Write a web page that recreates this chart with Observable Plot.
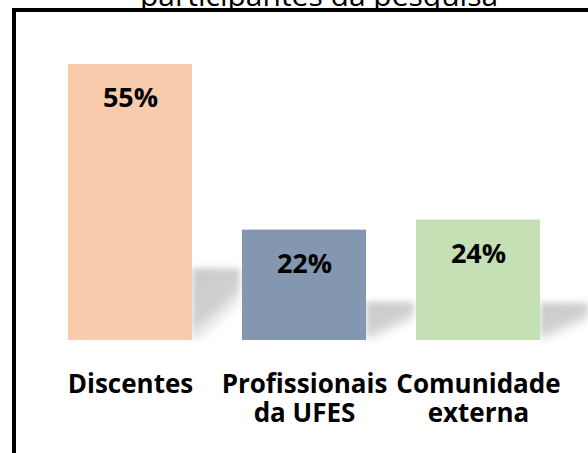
<!DOCTYPE html>
<html>
<head>
<meta charset="utf-8">
<script src="https://cdn.jsdelivr.net/npm/d3@7"></script>
<script src="https://cdn.jsdelivr.net/npm/@observablehq/plot@0.6"></script>
<style>
  html, body { margin: 0; padding: 0; width: 588px; height: 453px; overflow: hidden; background: #fff; }
  #wrap { position: relative; width: 588px; height: 453px; overflow: hidden; }
  #title { position: absolute; left: 140px; top: -20px; font-family: "Open Sans", sans-serif; font-size: 30px; line-height: 30px; white-space: nowrap; color: #000; z-index: 1; }
  #frame { position: absolute; left: 12px; top: 8px; width: 800px; height: 700px; border: 4px solid #000; background: #fff; z-index: 2; }
  #chart { position: absolute; left: 0; top: 0; z-index: 3; }
</style>
</head>
<body>
<div id="wrap">
  <div id="title">participantes da pesquisa</div>
  <div id="frame"></div>
  <div id="chart"></div>
</div>
<script>
const categories = ["Discentes", "Profissionais\nda UFES", "Comunidade\nexterna"];
const values = [55, 22, 24];
const valueLabels = ["55%", "22%", "24%"];
const barColors = ["#F8CBAD", "#8497B0", "#C5E0B4"];
const shadowHeights = [14.3, 7.6, 7.4];

const data = categories.map((c, i) => ({
  category: c, value: values[i], label: valueLabels[i], color: barColors[i], shadow: shadowHeights[i]
}));

function defs() {
  const ns = "http://www.w3.org/2000/svg";
  const d = document.createElementNS(ns, "defs");
  d.innerHTML = `
    <linearGradient id="shadowGrad" x1="0" y1="0" x2="0.6" y2="1">
      <stop offset="0" stop-color="#c4c4c4" stop-opacity="0.9"/>
      <stop offset="0.6" stop-color="#c8c8c8" stop-opacity="0.85"/>
      <stop offset="0.78" stop-color="#d8d8d8" stop-opacity="0.35"/>
      <stop offset="0.92" stop-color="#ffffff" stop-opacity="0"/>
    </linearGradient>`;
  return d;
}

const chart = Plot.plot({
  width: 588,
  height: 453,
  marginLeft: 68,
  marginRight: 48,
  marginTop: 64,
  marginBottom: 113,
  style: { background: "transparent", overflow: "visible" },
  x: { domain: categories, paddingInner: 0.2874, paddingOuter: 0, axis: null },
  y: { domain: [0, 55], axis: null },
  marks: [
    defs,
    Plot.barY(data, {
      x: "category", y: "shadow", dx: 124, insetRight: 76,
      fill: "url(#shadowGrad)", ariaLabel: "shadow"
    }),
    Plot.barY(data, { x: "category", y: "value", fill: d => d.color }),
    Plot.text(data, {
      x: "category", y: "value", text: "label", lineAnchor: "top", dy: 23.5,
      fontFamily: "Open Sans", fontWeight: "bold", fontSize: 27, fill: "#000"
    }),
    Plot.text(data, {
      x: "category", y: () => 0, text: "category", lineAnchor: "top", dy: 33,
      lineHeight: 1.08,
      fontFamily: "Open Sans", fontWeight: "bold", fontSize: 26, fill: "#000"
    })
  ]
});

chart.querySelectorAll('g[aria-label="shadow"], g[fill="url(#shadowGrad)"]').forEach(g => {
  g.style.filter = "blur(3px)";
});
document.getElementById("chart").appendChild(chart);
</script>
</body>
</html>
